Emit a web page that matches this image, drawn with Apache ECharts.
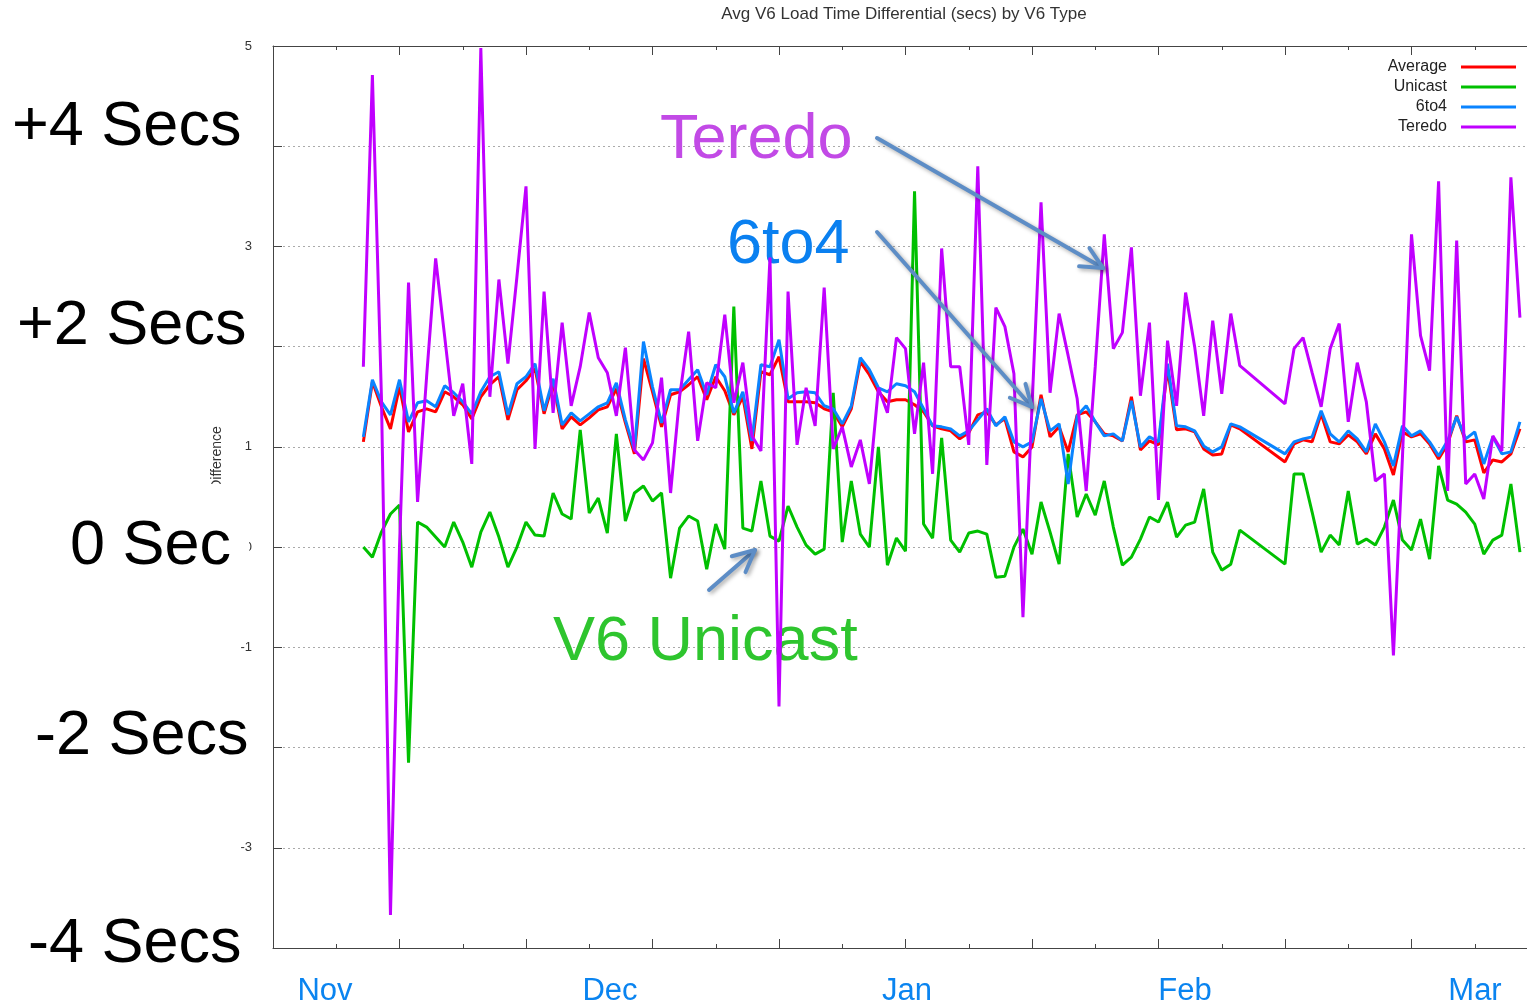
<!DOCTYPE html>
<html>
<head>
<meta charset="utf-8">
<title>Avg V6 Load Time Differential</title>
<script src="https://cdn.jsdelivr.net/npm/echarts@6/dist/echarts.min.js"></script>
<style>
  html, body { margin: 0; padding: 0; background: #fff; overflow: hidden; }
  /* plot runs past the right edge of the window, as in the source picture */
  #chart { width: 1538px; height: 1005px; }
</style>
</head>
<body>
<div id="chart"></div>
<script>
// day number (from late Oct) of each sample; no data for days 108-111
var days = [
  10, 11, 12, 13, 14, 15, 16, 17, 18, 19,
  20, 21, 22, 23, 24, 25, 26, 27, 28, 29,
  30, 31, 32, 33, 34, 35, 36, 37, 38, 39,
  40, 41, 42, 43, 44, 45, 46, 47, 48, 49,
  50, 51, 52, 53, 54, 55, 56, 57, 58, 59,
  60, 61, 62, 63, 64, 65, 66, 67, 68, 69,
  70, 71, 72, 73, 74, 75, 76, 77, 78, 79,
  80, 81, 82, 83, 84, 85, 86, 87, 88, 89,
  90, 91, 92, 93, 94, 95, 96, 97, 98, 99,
  100, 101, 102, 103, 104, 105, 106, 107,
  112, 113, 114, 115, 116, 117, 118, 119, 120, 121,
  122, 123, 124, 125, 126, 127, 128, 129, 130, 131,
  132, 133, 134, 135, 136, 137, 138
];

var average = [
  1.05, 1.65, 1.40, 1.18, 1.60, 1.15, 1.35, 1.38, 1.35, 1.55,
  1.50, 1.42, 1.28, 1.50, 1.62, 1.70, 1.27, 1.57, 1.66, 1.78,
  1.33, 1.64, 1.18, 1.30, 1.22, 1.29, 1.37, 1.40, 1.58, 1.24,
  0.93, 1.88, 1.55, 1.20, 1.52, 1.55, 1.62, 1.70, 1.47, 1.70,
  1.56, 1.32, 1.50, 0.98, 1.75, 1.72, 1.90, 1.45, 1.45, 1.45,
  1.44, 1.38, 1.35, 1.20, 1.38, 1.85, 1.72, 1.55, 1.45, 1.47,
  1.47, 1.42, 1.35, 1.21, 1.18, 1.16, 1.08, 1.14, 1.32, 1.35,
  1.22, 1.28, 0.95, 0.90, 1.00, 1.52, 1.10, 1.20, 0.95, 1.32,
  1.35, 1.25, 1.13, 1.11, 1.06, 1.50, 0.97, 1.06, 1.02, 1.78,
  1.17, 1.18, 1.15, 0.98, 0.92, 0.93, 1.22, 1.18,
  0.85, 1.03, 1.07, 1.05, 1.33, 1.05, 1.03, 1.12, 1.05, 0.93,
  1.13, 0.98, 0.72, 1.15, 1.10, 1.13, 1.03, 0.88, 1.03, 1.31,
  1.05, 1.07, 0.74, 0.87, 0.85, 0.93, 1.18
];

var unicast = [
  0.00, -0.10, 0.15, 0.33, 0.42, -2.15, 0.25, 0.20, 0.10, 0.00,
  0.25, 0.05, -0.20, 0.15, 0.35, 0.10, -0.20, 0.00, 0.25, 0.12,
  0.11, 0.54, 0.33, 0.28, 1.17, 0.34, 0.49, 0.14, 1.13, 0.26,
  0.54, 0.61, 0.46, 0.54, -0.31, 0.19, 0.31, 0.26, -0.22, 0.23,
  -0.02, 2.40, 0.19, 0.16, 0.66, 0.11, 0.06, 0.41, 0.20, 0.02,
  -0.07, -0.02, 1.54, 0.05, 0.66, 0.13, 0.00, 1.00, -0.18, 0.09,
  -0.04, 3.55, 0.23, 0.09, 1.09, 0.07, -0.05, 0.14, 0.16, 0.13,
  -0.30, -0.29, 0.00, 0.18, -0.07, 0.45, 0.15, -0.17, 0.93, 0.30,
  0.53, 0.32, 0.66, 0.20, -0.18, -0.10, 0.08, 0.30, 0.25, 0.45,
  0.10, 0.22, 0.25, 0.58, -0.05, -0.23, -0.17, 0.17,
  -0.17, 0.73, 0.73, 0.35, -0.05, 0.12, 0.02, 0.56, 0.03, 0.08,
  0.02, 0.20, 0.47, 0.07, -0.03, 0.28, -0.12, 0.81, 0.47, 0.43,
  0.35, 0.23, -0.07, 0.07, 0.12, 0.63, -0.05
];

var sixToFour = [
  1.10, 1.67, 1.45, 1.32, 1.67, 1.25, 1.44, 1.46, 1.40, 1.61,
  1.54, 1.45, 1.33, 1.55, 1.70, 1.75, 1.32, 1.63, 1.70, 1.83,
  1.36, 1.68, 1.22, 1.34, 1.26, 1.33, 1.40, 1.44, 1.64, 1.27,
  0.97, 2.05, 1.60, 1.24, 1.57, 1.57, 1.67, 1.77, 1.52, 1.82,
  1.70, 1.34, 1.55, 1.06, 1.82, 1.80, 2.07, 1.48, 1.54, 1.55,
  1.54, 1.41, 1.38, 1.23, 1.41, 1.89, 1.77, 1.59, 1.55, 1.63,
  1.61, 1.55, 1.38, 1.21, 1.20, 1.18, 1.11, 1.16, 1.27, 1.38,
  1.21, 1.30, 1.05, 1.00, 1.05, 1.48, 1.16, 1.23, 0.63, 1.31,
  1.41, 1.25, 1.11, 1.13, 1.06, 1.46, 1.00, 1.10, 1.05, 1.83,
  1.21, 1.20, 1.16, 1.01, 0.95, 1.00, 1.23, 1.20,
  0.93, 1.05, 1.08, 1.10, 1.36, 1.13, 1.05, 1.16, 1.08, 0.95,
  1.23, 1.05, 0.81, 1.21, 1.11, 1.16, 1.05, 0.91, 1.06, 1.30,
  1.08, 1.15, 0.83, 1.10, 0.93, 0.95, 1.25
];

var teredo = [
  1.80, 4.71, 1.50, -3.67, 0.00, 2.64, 0.45, 1.70, 2.88, 2.10,
  1.31, 1.63, 0.83, 4.98, 1.50, 2.67, 1.83, 2.70, 3.60, 0.98,
  2.55, 1.34, 2.24, 1.41, 1.80, 2.34, 1.89, 1.74, 1.31, 1.99,
  0.97, 0.87, 1.04, 1.69, 0.54, 1.50, 2.15, 1.06, 1.64, 1.59,
  2.32, 1.44, 1.84, 1.11, 0.96, 2.89, -1.59, 2.55, 1.02, 1.59,
  1.21, 2.59, 0.98, 1.20, 0.80, 1.07, 0.63, 1.59, 1.34, 2.09,
  1.98, 1.13, 1.84, 0.73, 2.98, 1.80, 1.80, 1.02, 3.80, 0.82,
  2.39, 2.20, 1.73, -0.70, 1.40, 3.44, 1.54, 2.33, 1.91, 1.48,
  0.56, 1.80, 3.12, 1.98, 2.14, 2.99, 1.51, 2.24, 0.47, 2.06,
  1.41, 2.54, 2.00, 1.31, 2.26, 1.53, 2.33, 1.81,
  1.43, 1.98, 2.09, 1.74, 1.40, 1.98, 2.23, 1.25, 1.84, 1.45,
  0.66, 0.73, -1.08, 0.90, 3.12, 2.11, 1.76, 3.65, 0.56, 3.06,
  0.63, 0.73, 0.48, 1.11, 0.96, 3.69, 2.29
];

var seriesNames = ['Average', 'Unicast', '6to4', 'Teredo'];
var seriesColors = ['#ff0000', '#00c000', '#0a84ff', '#c000ff'];
var seriesValues = [average, unicast, sixToFour, teredo];

var monthNames = ['Nov', 'Dec', 'Jan', 'Feb', 'Mar'];
var monthLabelX = [325, 610, 907, 1185, 1475];

var sideLabels = ['+4 Secs', '+2 Secs', '0 Sec', '-2 Secs', '-4 Secs'];

var FONT = '"Liberation Sans", Arial, sans-serif';
var axisColor = '#444';
var arrowColor = '#5d8dc6';

function pairs(vals) {
  return days.map(function (d, i) { return [d, vals[i]]; });
}

function arrow(x1, y1, x2, y2) {
  var a = Math.atan2(y2 - y1, x2 - x1), len = 24, w = 0.45;
  var st = {
    stroke: arrowColor, lineWidth: 4, fill: null, lineCap: 'round', lineJoin: 'round',
    shadowBlur: 4, shadowColor: 'rgba(0,0,0,0.35)', shadowOffsetX: 2, shadowOffsetY: 2
  };
  return [
    { type: 'line', z: 20, shape: { x1: x1, y1: y1, x2: x2, y2: y2 }, style: st },
    { type: 'polyline', z: 20, shape: { points: [
      [x2 - len * Math.cos(a - w), y2 - len * Math.sin(a - w)],
      [x2, y2],
      [x2 - len * Math.cos(a + w), y2 - len * Math.sin(a + w)]
    ] }, style: st }
  ];
}

function bigText(txt, x, y, color, z) {
  return {
    type: 'text', z: z, x: x, y: y,
    style: { text: txt, fill: color, font: '63px ' + FONT, verticalAlign: 'middle' }
  };
}

function whiteBox(x, y, w, h) {
  return { type: 'rect', z: 10, shape: { x: x, y: y, width: w, height: h }, style: { fill: '#fff' } };
}

var chart = echarts.init(document.getElementById('chart'), null, { renderer: 'canvas' });

var graphics = [
  // y axis title, its first letter cut by the "0 Sec" box
  { type: 'text', z: 5, x: 217, y: 458, rotation: Math.PI / 2,
    style: { text: 'Difference', fill: '#333', font: '14px ' + FONT, align: 'center', verticalAlign: 'middle' } },
  whiteBox(5, 92, 258, 70),
  whiteBox(10, 290, 253, 70),
  whiteBox(60, 484, 189, 116),
  whiteBox(25, 660, 247, 106),
  whiteBox(20, 905, 243, 80),
  bigText(sideLabels[0], 12, 128, '#000', 11),
  bigText(sideLabels[1], 17, 327, '#000', 11),
  bigText(sideLabels[2], 70, 547, '#000', 11),
  bigText(sideLabels[3], 35, 737, '#000', 11),
  bigText(sideLabels[4], 28, 945, '#000', 11),
  bigText('Teredo', 660, 141, '#c24ae6', 1),
  bigText('6to4', 727, 246, '#0a80f0', 1),
  bigText('V6 Unicast', 553, 643, '#2ec52e', 1)
];
monthNames.forEach(function (m, i) {
  graphics.push({
    type: 'text', z: 11, x: monthLabelX[i], y: 991,
    style: { text: m, fill: '#0a84f0', font: '31px ' + FONT, align: 'center', verticalAlign: 'middle' }
  });
});
graphics = graphics
  .concat(arrow(877, 138, 1103, 268))
  .concat(arrow(877, 232, 1032, 407))
  .concat(arrow(709, 590, 755, 550));

function xAxisDef(pos) {
  return {
    type: 'value', position: pos, min: 0, max: 140, interval: 14,
    axisLine: { show: true, onZero: false, lineStyle: { color: axisColor, width: 1 } },
    axisTick: { show: true, inside: true, length: 9, lineStyle: { color: axisColor } },
    minorTick: { show: true, splitNumber: 2, length: 4, lineStyle: { color: axisColor } },
    axisLabel: { show: false },
    splitLine: { show: false }
  };
}

chart.setOption({
  animation: false,
  backgroundColor: '#fff',
  title: {
    text: 'Avg V6 Load Time Differential (secs) by V6 Type',
    left: 899, top: 1, textAlign: 'center',
    textStyle: { color: '#333', fontSize: 17, fontWeight: 'normal', fontFamily: FONT }
  },
  legend: {
    data: seriesNames,
    orient: 'vertical', right: 17, top: 54,
    align: 'right', icon: 'rect', itemWidth: 55, itemHeight: 3, itemGap: 4,
    textStyle: { color: '#222', fontSize: 16, fontFamily: FONT, lineHeight: 16, padding: [0, 9, 0, 0] }
  },
  grid: { left: 273, top: 46, right: 0, bottom: 57 },
  xAxis: [xAxisDef('bottom'), xAxisDef('top')],
  yAxis: {
    type: 'value', min: -4, max: 5, interval: 1,
    axisLine: { show: true, lineStyle: { color: axisColor, width: 1 } },
    axisTick: { show: true, inside: true, length: 9, lineStyle: { color: axisColor } },
    axisLabel: { color: '#333', fontSize: 13, fontFamily: FONT, margin: 21 },
    splitLine: { show: true, lineStyle: { color: '#aaa', width: 1, type: [2, 3] } }
  },
  series: seriesNames.map(function (name, i) {
    return {
      name: name, type: 'line', xAxisIndex: 0,
      data: pairs(seriesValues[i]),
      showSymbol: false, symbol: 'none',
      lineStyle: { color: seriesColors[i], width: 3 },
      itemStyle: { color: seriesColors[i] },
      z: 3 + i
    };
  }),
  graphic: graphics
});
</script>
</body>
</html>
